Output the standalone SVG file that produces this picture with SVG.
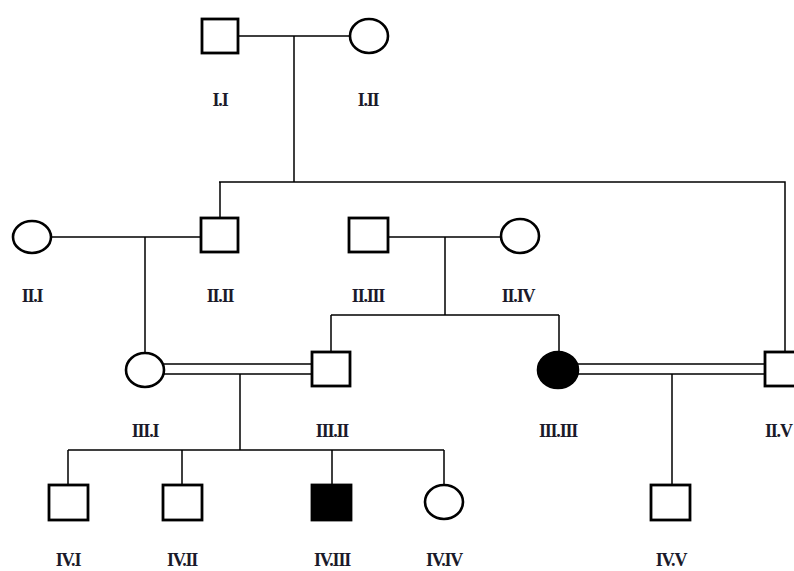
<svg xmlns="http://www.w3.org/2000/svg" width="794" height="571" viewBox="0 0 794 571">
<style>
.sq{fill:#fff;stroke:#000;stroke-width:2.8}
.ci{fill:#fff;stroke:#000;stroke-width:2.6}
.aff{fill:#000}
.ln{fill:none;stroke:#000;stroke-width:1.5}
.lb{font-family:"Liberation Serif",serif;font-weight:bold;font-size:18px;fill:#1a1a2a;text-anchor:middle;letter-spacing:-1.2px}
</style>
<rect width="794" height="571" fill="#fff"/>
<g id="connectors">
<path class="ln" d="M238 36H350M294 36V182M219 182H785V352M220 182V218"/>
<path class="ln" d="M51 237H201M145 237V352"/>
<path class="ln" d="M389 237H501M445 237V315M331 315H559M331 315V352M559 315V352"/>
<path class="ln" d="M164 364H311M164 374H311M240 374V450M68 450H444M68 450V484M182 450V484M332 450V484M444 450V484"/>
<path class="ln" d="M577 364H765M577 374H765M672 374V484"/>
</g>
<g id="I.I"><rect class="sq" x="202" y="19" width="36" height="34"/><text class="lb" x="220" y="106">I.I</text></g>
<g id="I.II"><ellipse class="ci" cx="369" cy="36" rx="19" ry="17"/><text class="lb" x="368" y="106">I.II</text></g>
<g id="II.I"><ellipse class="ci" cx="32" cy="237" rx="19" ry="16"/><text class="lb" x="32" y="302">II.I</text></g>
<g id="II.II"><rect class="sq" x="201" y="218" width="37" height="34"/><text class="lb" x="220" y="302">II.II</text></g>
<g id="II.III"><rect class="sq" x="349" y="218" width="39" height="34"/><text class="lb" x="368" y="302">II.III</text></g>
<g id="II.IV"><ellipse class="ci" cx="520" cy="236" rx="19" ry="17"/><text class="lb" x="518" y="302">II.IV</text></g>
<g id="III.I"><ellipse class="ci" cx="145" cy="370" rx="19" ry="17"/><text class="lb" x="145" y="437">III.I</text></g>
<g id="III.II"><rect class="sq" x="312" y="352" width="38" height="34"/><text class="lb" x="332" y="437">III.II</text></g>
<g id="III.III"><ellipse class="ci aff" cx="558" cy="370" rx="20" ry="18"/><text class="lb" x="558" y="437">III.III</text></g>
<g id="II.V"><rect class="sq" x="765" y="352" width="40" height="34"/><text class="lb" x="765" y="437" style="text-anchor:start">II.V</text></g>
<g id="IV.I"><rect class="sq" x="49" y="485" width="39" height="35"/><text class="lb" x="68" y="566">IV.I</text></g>
<g id="IV.II"><rect class="sq" x="163" y="485" width="39" height="35"/><text class="lb" x="182" y="566">IV.II</text></g>
<g id="IV.III"><rect class="sq aff" x="312" y="485" width="39" height="35"/><text class="lb" x="332" y="566">IV.III</text></g>
<g id="IV.IV"><ellipse class="ci" cx="444" cy="502" rx="19" ry="17"/><text class="lb" x="444" y="566">IV.IV</text></g>
<g id="IV.V"><rect class="sq" x="651" y="485" width="39" height="35"/><text class="lb" x="671" y="566">IV.V</text></g>
</svg>
